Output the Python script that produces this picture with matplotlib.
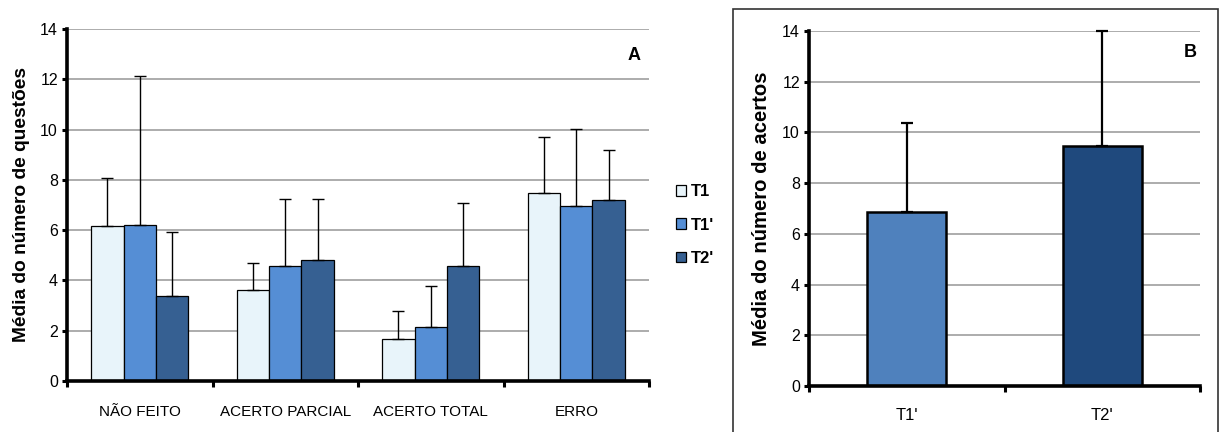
import matplotlib
matplotlib.use("Agg")
import matplotlib.pyplot as plt
from matplotlib.patches import Rectangle
import numpy as np

plt.rcParams['font.family'] = ['Liberation Sans', 'DejaVu Sans']

# Panel A data
categories = ['NÃO FEITO', 'ACERTO PARCIAL', 'ACERTO TOTAL', 'ERRO']
series = ['T1', "T1'", "T2'"]
t1 = [6.18, 3.62, 1.67, 7.49]
t1p = [6.20, 4.56, 2.15, 6.96]
t2p = [3.39, 4.80, 4.56, 7.20]
t1_err = [1.89, 1.06, 1.13, 2.23]
t1p_err = [5.93, 2.69, 1.64, 3.08]
t2p_err = [2.52, 2.45, 2.53, 1.99]

# Panel B data
b_labels = ["T1'", "T2'"]
b_vals = [6.85, 9.45]
b_err = [3.52, 4.55]

W, H = 1219, 432
fig = plt.figure(figsize=(W / 100, H / 100), dpi=100)


def px_axes(l, t, r, b):
    return fig.add_axes([l / W, 1 - b / H, (r - l) / W, (b - t) / H])


def style(ax, ncat, xsize, xpad):
    ax.set_ylim(0, 14)
    ax.set_xlim(-0.5, ncat - 0.5)
    ax.set_yticks(np.arange(0, 15, 2))
    ax.yaxis.grid(True, color='#a6a6a6', lw=1.3)
    ax.set_axisbelow(True)
    for s in ['top', 'right']:
        ax.spines[s].set_visible(False)
    for s in ['left', 'bottom']:
        ax.spines[s].set_linewidth(2.6)
    ax.tick_params(axis='y', direction='out', length=3.5, width=2.2,
                   labelsize=11.5, pad=3)
    ax.set_xticks(np.arange(ncat + 1) - 0.5)
    ax.set_xticklabels([])
    ax.tick_params(axis='x', which='major', direction='out', length=4, width=2.2)
    ax.set_xticks(np.arange(ncat), minor=True)
    ax.tick_params(axis='x', which='minor', length=0, labelsize=xsize, pad=xpad)


# ---- Panel A
axA = px_axes(67, 29, 649, 381)
style(axA, len(categories), 11, 17)
x = np.arange(len(categories))
w = 1 / 4.5
colors_a = ['#e8f4fa', '#558ed5', '#366092']
vals_a = [t1, t1p, t2p]
errs_a = [t1_err, t1p_err, t2p_err]
for k, (v, e, c, name) in enumerate(zip(vals_a, errs_a, colors_a, series)):
    xs = x + (k - 1) * w
    axA.bar(xs, v, w, color=c, edgecolor='black', lw=0.9, label=name, zorder=2)
    axA.errorbar(xs, v, yerr=[np.zeros(len(v)), e], fmt='none', ecolor='black',
                 elinewidth=1, capsize=4, capthick=1, zorder=3)
axA.set_xticklabels(categories, minor=True)
axA.set_ylabel('Média do número de questões', fontsize=13.8, fontweight='bold',
               labelpad=7)
axA.text(0.975, 0.925, 'A', transform=axA.transAxes, ha='center', va='center',
         fontsize=13, fontweight='bold')
leg = axA.legend(loc='center left', bbox_to_anchor=(1.02, 0.443), frameon=False,
                 handlelength=0.6, handleheight=0.6, handletextpad=0.3,
                 labelspacing=1.1, prop={'weight': 'bold', 'size': 12})

# ---- Panel B box
fig.patches.append(Rectangle((733 / W, -0.1), (1218 - 733) / W, 1.1 - 9 / H,
                             transform=fig.transFigure, fill=False,
                             edgecolor='#333333', lw=1.2))

axB = px_axes(809, 31, 1200, 386)
style(axB, len(b_labels), 12, 16)
xb = np.arange(len(b_labels))
axB.bar(xb, b_vals, 0.404, color=['#4f81bd', '#1f497d'], edgecolor='black',
        lw=1.8, zorder=2)
axB.errorbar(xb, b_vals, yerr=[np.zeros(len(b_vals)), b_err], fmt='none',
             ecolor='black', elinewidth=1.6, capsize=4, capthick=1.6, zorder=3,
             clip_on=False)
axB.set_xticklabels(b_labels, minor=True)
axB.set_ylabel('Média do número de acertos', fontsize=14.6, fontweight='bold',
               labelpad=8)
axB.text(0.975, 0.94, 'B', transform=axB.transAxes, ha='center', va='center',
         fontsize=13, fontweight='bold')

fig.savefig('out.png', dpi=100)
